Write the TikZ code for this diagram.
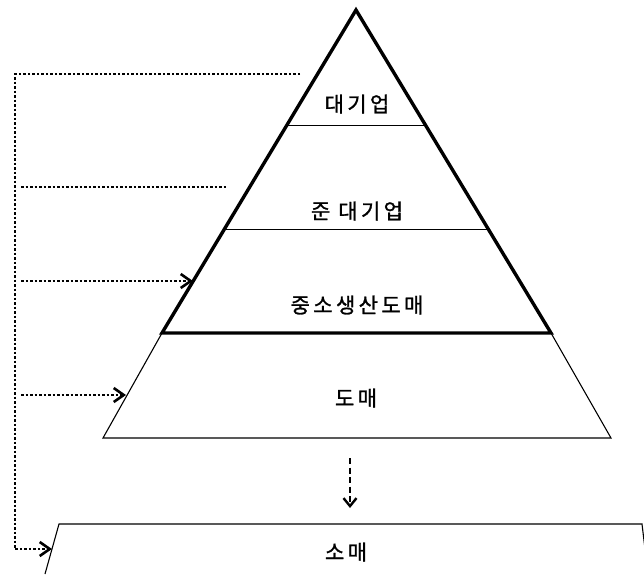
\documentclass[tikz,border=0pt]{standalone}
\usepackage{fontspec}
\newfontfamily\kr[LetterSpace=16,FakeBold=1.3]{Noto Sans CJK KR}
\usetikzlibrary{arrows.meta,calc}
\begin{document}
\begin{tikzpicture}[x=1pt,y=-1pt,
  thickedge/.style={line width=3.4pt, line join=miter},
  thinedge/.style={line width=1.1pt},
  divider/.style={line width=1pt},
  dotline/.style={line width=2.8pt, dash pattern=on 2.5pt off 2pt},
  barb/.style={-{Straight Barb[length=10pt,width=14pt,line width=2.6pt]}},
  dasharrow/.style={line width=2.2pt, dash pattern=on 6pt off 3.5pt,
    -{Straight Barb[length=8pt,width=13pt,line width=2.4pt]}},
  lbl/.style={font=\kr\fontsize{21}{23}\selectfont, inner sep=0pt}
]
\useasboundingbox (0,0) rectangle (644,574);
% key points
\coordinate (apex) at (356,10);
\coordinate (bl) at (162,333);
\coordinate (br) at (551,333);
\coordinate (tl) at (103,438);
\coordinate (tr) at (611,438);
% bottom retail box
\begin{scope}
\clip (0,0) rectangle (644,574);
\draw[thinedge] (45,574) -- (59,524) -- (642,524) -- (648,574);
\end{scope}
% trapezoid (wholesale)
\draw[thinedge] (bl) -- (tl) -- (tr) -- (br);
% dividers
\draw[divider] ($(apex)!0.359!(bl)$) -- ($(apex)!0.359!(br)$);
\draw[divider] ($(apex)!0.678!(bl)$) -- ($(apex)!0.678!(br)$);
% pyramid
\draw[thickedge] (apex) -- (bl) -- (br) -- cycle;
% labels
\node[lbl] (n1) at (357,104) {대기업};
\node[lbl] (n2) at (357,211) {준 대기업};
\node[lbl] (n3) at (357,305) {중소생산도매};
\node[lbl] (n4) at (356,398) {도매};
\node[lbl] (n5) at (346,552) {소매};
% connector endpoints
\coordinate (s1) at (300,74);
\coordinate (k1) at (15,74);
\coordinate (k2) at (15,549);
\coordinate (e5) at (52,549);
\coordinate (s2) at (21,187);
\coordinate (e2) at (227,187);
\coordinate (s3) at (21,281);
\coordinate (e3) at (193,281);
\coordinate (s4) at (21,395);
\coordinate (e4) at (126,395);
\coordinate (d1) at (350,458);
\coordinate (d2) at (350,508);
% dotted connectors
\draw[dotline, barb] (s1) -- (k1) -- (k2) -- (e5);
\draw[dotline] (s2) -- (e2);
\draw[dotline, barb] (s3) -- (e3);
\draw[dotline, barb] (s4) -- (e4);
% dashed arrow
\draw[dasharrow] (d1) -- (d2);
\end{tikzpicture}
\end{document}
